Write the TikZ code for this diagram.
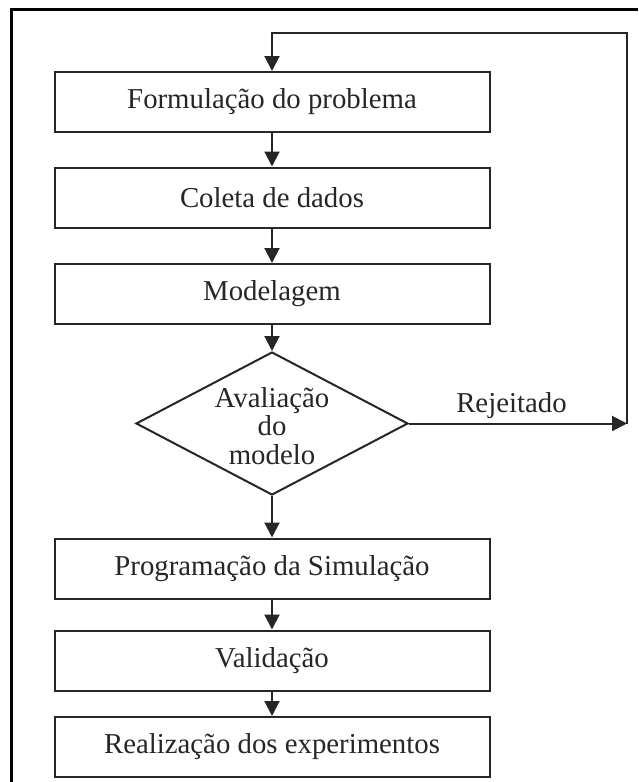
\documentclass[tikz,border=0pt]{standalone}
\usepackage{fontspec}
\setmainfont{Liberation Serif}
\usetikzlibrary{arrows.meta,shapes.geometric}
\begin{document}
\begin{tikzpicture}[x=1pt,y=-1pt,
  every node/.style={font=\fontsize{28.8}{28.5}\selectfont, text=black!85},
  stepbox/.style={draw=black!85, line width=2pt, minimum width=435pt, minimum height=60pt, inner sep=0pt},
  decision/.style={draw=black!85, line width=2pt, diamond, minimum width=272pt, minimum height=143pt, inner sep=0pt},
  flow/.style={draw=black!85, line width=2pt, -{Triangle[length=15pt,width=15pt]}},
  plain/.style={draw=black!85, line width=2pt}
]
\useasboundingbox (0,0) rectangle (638,782);
\fill[white] (0,0) rectangle (638,782);
\draw[line width=3pt, black] (11.3,782) -- (11.3,9.5) -- (638,9.5);

\node[stepbox] (b1) at (272,102) {Formulação do problema};
\node[stepbox] (b2) at (272,197.5) {Coleta de dados};
\node[stepbox] (b3) at (272,294) {Modelagem};
\node[decision] (d) at (272,423.5) {};
\node[align=center, inner sep=0pt] (dt) at (272,426) {Avaliação\\do\\modelo};
\node[stepbox] (b4) at (272,568.5) {Programação da Simulação};
\node[stepbox] (b5) at (272,660.5) {Validação};
\node[stepbox] (b6) at (272,747) {Realização dos experimentos};

\coordinate (r) at (627,423.5);
\coordinate (t) at (627,33);

\draw[flow] (b1) -- (b2);
\draw[flow] (b2) -- (b3);
\draw[flow] (b3) -- (d);
\draw[flow] (d) -- (b4);
\draw[flow] (b4) -- (b5);
\draw[flow] (b5) -- (b6);
\draw[flow] (d.east) -- node[above, inner sep=4pt, pos=0.47] (rej) {Rejeitado} (r);
\draw[flow] (r) -- (t) -| (b1.north);
\end{tikzpicture}
\end{document}
